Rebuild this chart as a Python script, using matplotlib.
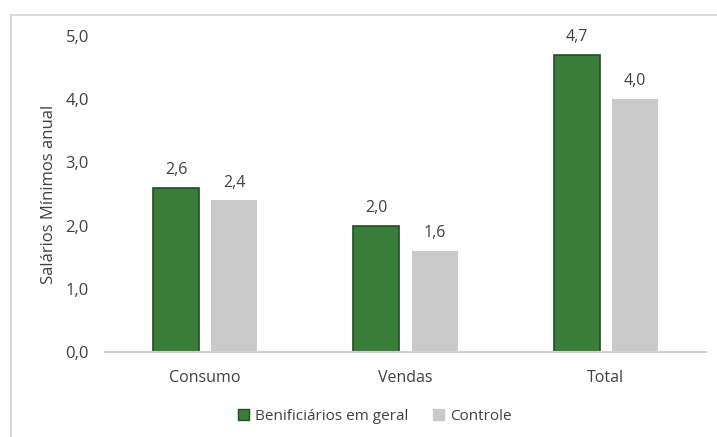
import matplotlib
matplotlib.use("Agg")
import matplotlib.pyplot as plt
from matplotlib.lines import Line2D
from matplotlib.patches import Patch

# ── Dados ──────────────────────────────────────────────
categorias = ["Consumo", "Vendas", "Total"]
beneficiarios = [2.6, 2.0, 4.7]
controle = [2.4, 1.6, 4.0]
serie_nomes = ["Benificiários em geral", "Controle"]
yticks = [0, 1, 2, 3, 4, 5]

# ── Cores ──────────────────────────────────────────────
VERDE = "#3a7d3b"
VERDE_BORDA = "#1f4f22"
CINZA = "#c8c9c8"
TEXTO = "#404040"
LINHA = "#d0d0d0"

plt.rcParams["font.family"] = ["Open Sans", "DejaVu Sans"]

fig = plt.figure(figsize=(7.17, 4.37), dpi=100)
ax = fig.add_axes([0.1464, 0.1945, 0.8383, 0.7231])

x = list(range(len(categorias)))
largura = 0.23
desloc = 0.145

b1 = ax.bar([i - desloc for i in x], beneficiarios, width=largura,
            color=VERDE, edgecolor=VERDE_BORDA, linewidth=1.2)
b2 = ax.bar([i + desloc for i in x], controle, width=largura,
            color=CINZA, edgecolor=CINZA, linewidth=0)

for barras, vals in ((b1, beneficiarios), (b2, controle)):
    for r, v in zip(barras, vals):
        ax.annotate(f"{v:.1f}".replace(".", ","),
                    (r.get_x() + r.get_width() / 2, v),
                    xytext=(0, 7), textcoords="offset points",
                    ha="center", va="bottom", fontsize=11.5, color=TEXTO)

ax.set_xlim(-0.5, 2.5)
ax.set_ylim(0, 5)
ax.set_yticks(yticks)
ax.set_yticklabels([f"{t:.1f}".replace(".", ",") for t in yticks])
ax.set_xticks(x)
ax.set_xticklabels(categorias)
ax.tick_params(axis="both", length=0, colors=TEXTO)
ax.tick_params(axis="y", pad=11.5, labelsize=12)
ax.tick_params(axis="x", pad=13, labelsize=11.5)

for s in ("top", "right", "left"):
    ax.spines[s].set_visible(False)
ax.spines["bottom"].set_color(LINHA)
ax.spines["bottom"].set_linewidth(1.5)

ax.set_ylabel("Salários Mínimos anual", color=TEXTO, fontsize=12, labelpad=6)

handles = [Patch(facecolor=VERDE, edgecolor=VERDE_BORDA, linewidth=1),
           Patch(facecolor=CINZA, edgecolor=CINZA)]
fig.legend(handles, serie_nomes, loc="center", bbox_to_anchor=(0.523, 0.048),
           ncol=2, frameon=False, fontsize=11, labelcolor=TEXTO,
           handlelength=0.7, handleheight=0.7, handletextpad=0.4,
           columnspacing=1.6)

# moldura (apenas topo e esquerda visíveis)
fig.add_artist(Line2D([11 / 717, 1.0], [1 - 15 / 437, 1 - 15 / 437],
                      transform=fig.transFigure, color="#d9d9d9", linewidth=1.5))
fig.add_artist(Line2D([11 / 717, 11 / 717], [0, 1 - 15 / 437],
                      transform=fig.transFigure, color="#d9d9d9", linewidth=1.5))

fig.savefig("out.png", dpi=100, facecolor="white")
